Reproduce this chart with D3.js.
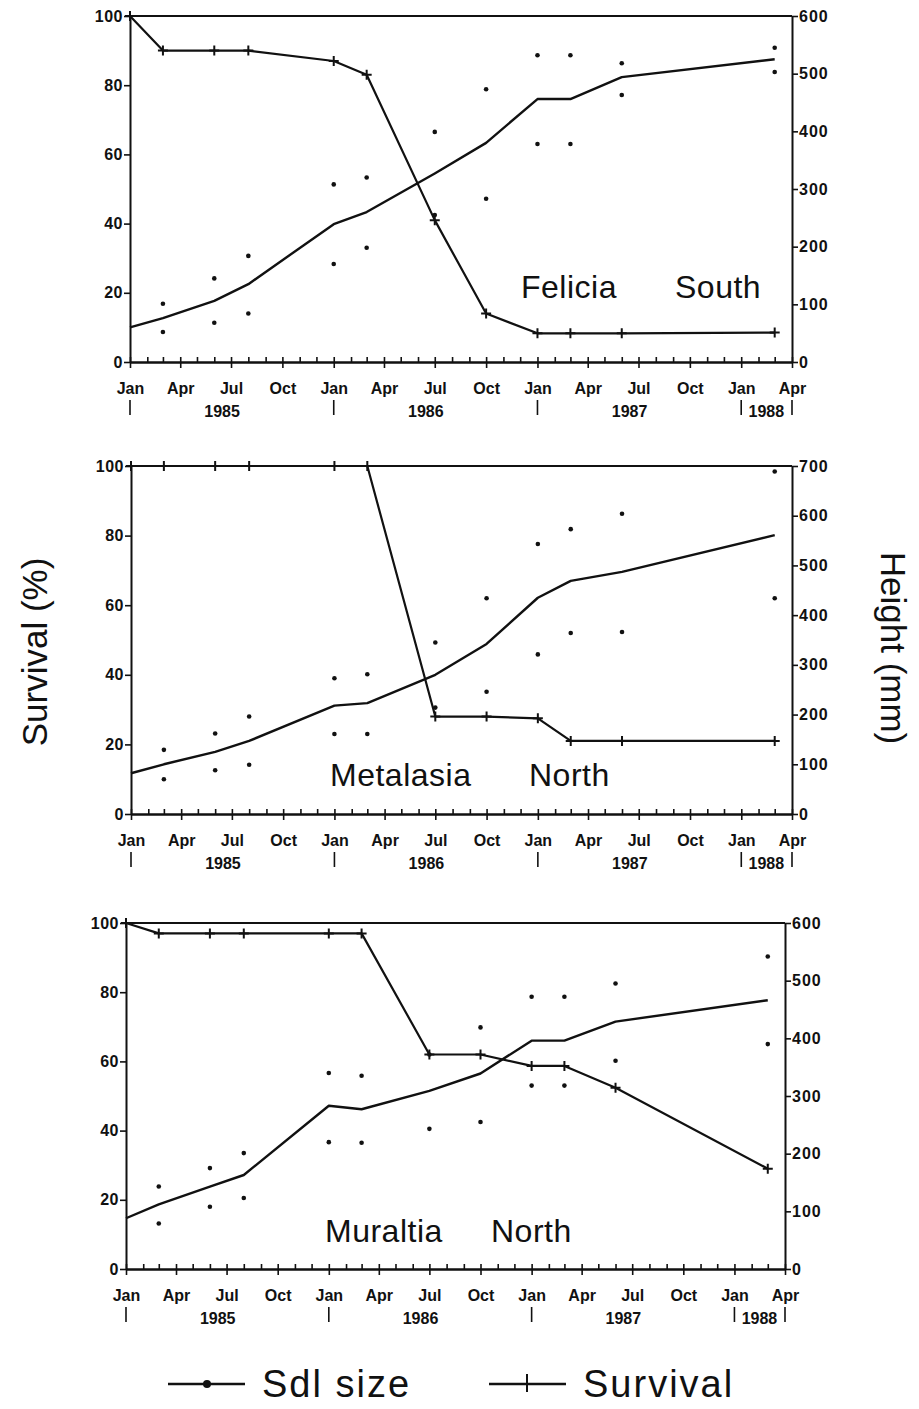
<!DOCTYPE html>
<html><head><meta charset="utf-8">
<script src="https://cdn.jsdelivr.net/npm/d3@7"></script>
<style>
html,body{margin:0;padding:0;background:#fff;}
svg text{font-family:"Liberation Sans",Arial,sans-serif;fill:#111;}
</style></head><body>
<svg id="chart" width="919" height="1409"></svg>
<script>
// ---- data ----
const sampleDates = ["1985-01","1985-03","1985-06","1985-08","1986-01","1986-03","1986-07","1986-10","1987-01","1987-03","1987-06","1988-03"];
const years = ["1985","1986","1987","1988"];
const survivalTicks = [0,20,40,60,80,100];

const feliciaSurvival = [100, 90, 90, 90, 87, 83, 41, 14, 8.3, 8.3, 8.3, 8.5];
const feliciaSize     = [60, 76, 106, 135, 239, 260, 327, 380, 456, 456, 494, 525];
const feliciaUpper    = [null, 101, 145, 184, 308, 320, 399, 473, 532, 532, 518, 545];
const feliciaLower    = [null, 52, 68, 84, 170, 198, 255, 283, 378, 378, 463, 503];
const feliciaHeightTicks = [0,100,200,300,400,500,600];

const metalasiaSurvival = [100, 100, 100, 100, 100, 100, 28, 28, 27.5, 21, 21, 21];
const metalasiaSize     = [82, 100, 125, 147, 218, 223, 280, 342, 435, 469, 487, 561];
const metalasiaUpper    = [null, 129, 162, 196, 273, 281, 345, 434, 543, 573, 604, 689];
const metalasiaLower    = [null, 70, 88, 99, 161, 161, 214, 246, 321, 364, 366, 434];
const metalasiaHeightTicks = [0,100,200,300,400,500,600,700];

const muraltiaSurvival = [100, 97, 97, 97, 97, 97, 62, 62, 58.7, 58.7, 52.4, 29];
const muraltiaSize     = [88, 112, 143, 163, 283, 277, 309, 339, 396, 396, 429, 466];
const muraltiaUpper    = [null, 143, 175, 201, 340, 335, 372, 419, 472, 472, 495, 542];
const muraltiaLower    = [null, 79, 108, 123, 220, 219, 243, 255, 318, 318, 361, 390];
const muraltiaHeightTicks = [0,100,200,300,400,500,600];

const panels = [
  {species:"Felicia", site:"South", survival:feliciaSurvival, size:feliciaSize, upper:feliciaUpper, lower:feliciaLower, heightTicks:feliciaHeightTicks},
  {species:"Metalasia", site:"North", survival:metalasiaSurvival, size:metalasiaSize, upper:metalasiaUpper, lower:metalasiaLower, heightTicks:metalasiaHeightTicks},
  {species:"Muraltia", site:"North", survival:muraltiaSurvival, size:muraltiaSize, upper:muraltiaUpper, lower:muraltiaLower, heightTicks:muraltiaHeightTicks}
];

// ---- layout ----
const layout = [
  {left:130, right:792, top:16,  bottom:362,  speciesX:521, siteX:675, labelY:298},
  {left:131, right:792, top:466, bottom:814,  speciesX:330, siteX:529, labelY:786},
  {left:126, right:785, top:923, bottom:1269, speciesX:325, siteX:491, labelY:1242}
];

const svg = d3.select("#chart");
const parseM = d3.timeParse("%Y-%m");
const dates = sampleDates.map(parseM);
const xStart = new Date(1985,0,1), xEnd = new Date(1988,3,1);

const crossPath = "M-5,0H5M0,-5V5";

panels.forEach((p, i) => {
  const L = layout[i];
  const g = svg.append("g");
  const x = d3.scaleTime().domain([xStart, xEnd]).range([L.left, L.right]);
  const yL = d3.scaleLinear().domain([0, 100]).range([L.bottom, L.top]);
  const yR = d3.scaleLinear().domain([0, d3.max(p.heightTicks)]).range([L.bottom, L.top]);

  // frame top
  g.append("line").attr("x1", L.left).attr("x2", L.right).attr("y1", L.top).attr("y2", L.top)
    .attr("stroke", "#111").attr("stroke-width", 2);

  // left axis
  const ax = g.append("g").attr("transform", `translate(${L.left},0)`)
    .call(d3.axisLeft(yL).tickValues(survivalTicks).tickSize(6).tickSizeOuter(0).tickPadding(1));
  // right axis
  const ar = g.append("g").attr("transform", `translate(${L.right},0)`)
    .call(d3.axisRight(yR).tickValues(p.heightTicks).tickSize(6).tickSizeOuter(0).tickPadding(1));
  // bottom monthly minor ticks (upward)
  const ab1 = g.append("g").attr("transform", `translate(0,${L.bottom})`)
    .call(d3.axisBottom(x).ticks(d3.timeMonth.every(1)).tickSize(-5).tickSizeOuter(0).tickFormat(""));
  // quarterly ticks with labels
  const ab2 = g.append("g").attr("transform", `translate(0,${L.bottom})`)
    .call(d3.axisBottom(x).ticks(d3.timeMonth.every(3)).tickSize(6).tickSizeOuter(0).tickPadding(15).tickFormat(d3.timeFormat("%b")));

  [ax, ar, ab1, ab2].forEach(a => {
    a.select(".domain").attr("stroke", "#111").attr("stroke-width", 2);
    a.selectAll(".tick line").attr("stroke", "#111").attr("stroke-width", 1.6);
    a.selectAll("text").attr("font-size", 16).attr("font-weight", "bold")
      .attr("font-family", "'Liberation Sans',Arial,sans-serif").attr("fill", "#111");
  });
  ax.selectAll("text").attr("letter-spacing", 0.5);
  ar.selectAll("text").attr("letter-spacing", 1);

  // year labels and bars
  const barDates = [new Date(1985,0,1), new Date(1986,0,1), new Date(1987,0,1), new Date(1988,0,1), xEnd];
  g.selectAll(".ybar").data(barDates).join("line")
    .attr("x1", d => x(d)).attr("x2", d => x(d))
    .attr("y1", L.bottom + 38).attr("y2", L.bottom + 53)
    .attr("stroke", "#111").attr("stroke-width", 1.6);
  g.selectAll(".ylab").data(years).join("text")
    .attr("x", d => d === "1988" ? x(new Date(1988,1,15)) : x(new Date(+d,5,15)))
    .attr("y", L.bottom + 55)
    .attr("text-anchor", "middle").attr("font-size", 16).attr("font-weight", "bold")
    .text(d => d);

  // size data
  const sizePts = dates.map((d, k) => ({date: d, v: p.size[k]}));
  const dotPts = [];
  dates.forEach((d, k) => {
    if (p.upper[k] != null) dotPts.push({date: d, v: p.upper[k]});
    if (p.lower[k] != null) dotPts.push({date: d, v: p.lower[k]});
  });
  const survPts = dates.map((d, k) => ({date: d, v: p.survival[k]}));

  g.append("path").datum(sizePts)
    .attr("d", d3.line().x(d => x(d.date)).y(d => yR(d.v)))
    .attr("fill", "none").attr("stroke", "#111").attr("stroke-width", 2.4).attr("stroke-linejoin", "round");
  g.selectAll(".dot").data(dotPts).join("circle")
    .attr("cx", d => x(d.date)).attr("cy", d => yR(d.v)).attr("r", 2.3).attr("fill", "#111");

  g.append("path").datum(survPts)
    .attr("d", d3.line().x(d => x(d.date)).y(d => yL(d.v)))
    .attr("fill", "none").attr("stroke", "#111").attr("stroke-width", 2.2).attr("stroke-linejoin", "round");
  g.selectAll(".cross").data(survPts).join("path")
    .attr("transform", d => `translate(${x(d.date)},${yL(d.v)})`)
    .attr("d", crossPath).attr("stroke", "#111").attr("stroke-width", 2).attr("fill", "none");

  // panel labels
  g.append("text").attr("x", L.speciesX).attr("y", L.labelY).attr("font-size", 32).attr("letter-spacing", 0.5).text(p.species);
  g.append("text").attr("x", L.siteX).attr("y", L.labelY).attr("font-size", 32).attr("letter-spacing", 0.5).text(p.site);
});

// axis titles
svg.append("text").attr("transform", "translate(34,652) rotate(-90)")
  .attr("text-anchor", "middle").attr("dominant-baseline", "central").attr("font-size", 35)
  .text("Survival (%)");
svg.append("text").attr("transform", "translate(893,648) rotate(90)")
  .attr("text-anchor", "middle").attr("dominant-baseline", "central").attr("font-size", 35)
  .text("Height (mm)");

// legend
const legendItems = ["Sdl size", "Survival"];
const legendLayout = [{x1:168, x2:245, mx:207, tx:262}, {x1:489, x2:566, mx:527, tx:583}];
const legY = 1384;
legendItems.forEach((name, i) => {
  const LL = legendLayout[i];
  svg.append("line").attr("x1", LL.x1).attr("x2", LL.x2).attr("y1", legY).attr("y2", legY)
    .attr("stroke", "#111").attr("stroke-width", 2.4);
  if (i === 0) {
    svg.append("circle").attr("cx", LL.mx).attr("cy", legY).attr("r", 4).attr("fill", "#111");
  } else {
    svg.append("line").attr("x1", LL.mx).attr("x2", LL.mx).attr("y1", legY - 10).attr("y2", legY + 8)
      .attr("stroke", "#111").attr("stroke-width", 2);
  }
  svg.append("text").attr("x", LL.tx).attr("y", legY + 13).attr("font-size", 38).attr("letter-spacing", 2).text(name);
});
</script>
</body></html>
